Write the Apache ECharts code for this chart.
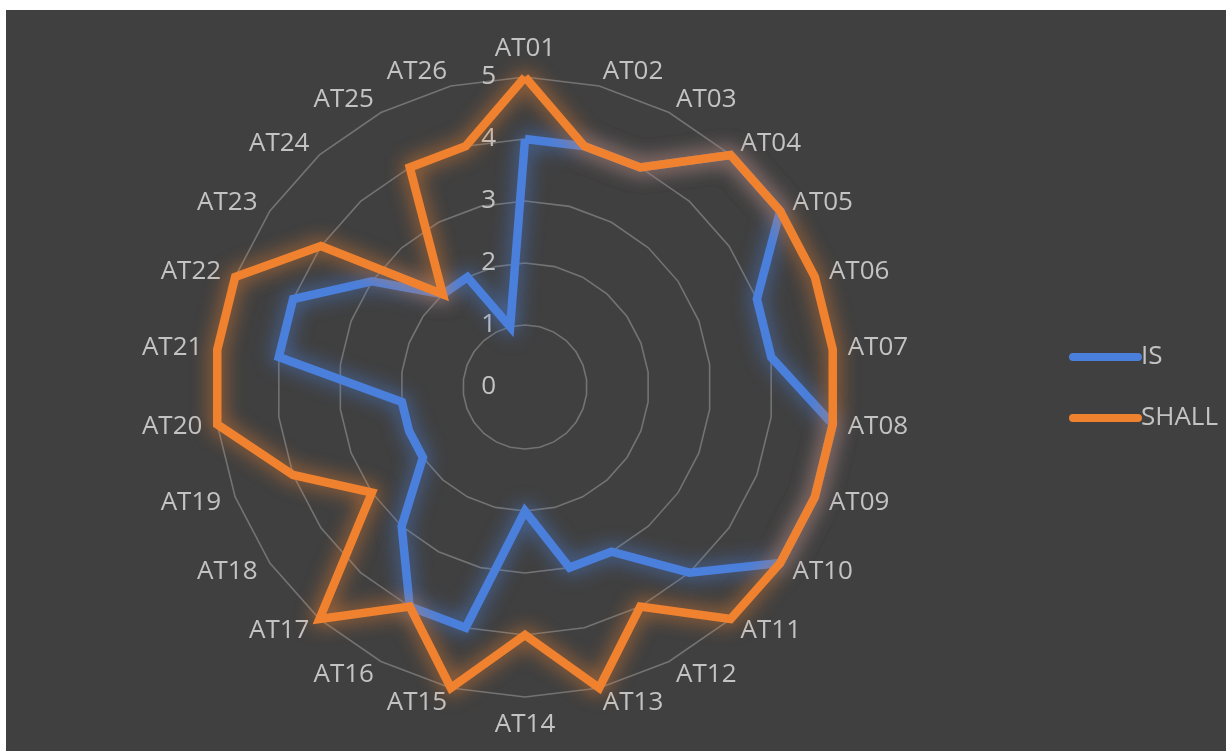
<!DOCTYPE html>
<html>
<head>
<meta charset="utf-8">
<script src="https://cdn.jsdelivr.net/npm/echarts@6/dist/echarts.min.js"></script>
<style>
  html, body { margin: 0; padding: 0; background: #ffffff; }
  #chart { position: absolute; left: 6px; top: 10px; width: 1220px; height: 741px; background: #404040; }
</style>
</head>
<body>
<div id="chart"></div>
<script>
// Attribute categories, listed clockwise from the top
const categories = ['AT01','AT02','AT03','AT04','AT05','AT06','AT07','AT08','AT09','AT10','AT11','AT12','AT13',
                    'AT14','AT15','AT16','AT17','AT18','AT19','AT20','AT21','AT22','AT23','AT24','AT25','AT26'];
// Current state
const isValues = [4,4,4,5,5,4,4,5,5,5,4,3,3,2,4,4,3,2,2,2,4,4,3,2,2,1];
// Target state
const shallValues = [5,4,4,5,5,5,5,5,5,5,5,4,5,4,5,4,5,3,4,5,5,5,4,2,4,4];
const seriesNames = ['IS', 'SHALL'];
const scaleMin = 0;
const scaleMax = 5;

const textColor = '#c3c3c3';
const font = '"Open Sans", "Noto Sans", sans-serif';
const blue = '#4a7fdc';
const orange = '#f0822f';

// ECharts lays radar spokes out counter-clockwise; keep AT01 on top and
// walk the rest backwards so the categories run clockwise.
const order = [0].concat(categories.map((_, i) => i).slice(1).reverse());
const reorder = arr => order.map(i => arr[i]);

const indicator = reorder(categories).map((name, i) => {
  const ind = { name: name, min: scaleMin, max: scaleMax };
  if (i === 0) {
    // value scale shown only on the top spoke
    ind.axisLabel = { show: true, showMinLabel: true, showMaxLabel: true };
  }
  return ind;
});

const chart = echarts.init(document.getElementById('chart'), null, { renderer: 'canvas' });

const pill = 'path://M4,0 L68,0 A4,4 0 0 1 68,8 L4,8 A4,4 0 0 1 4,0 Z';

chart.setOption({
  backgroundColor: '#404040',
  animation: false,
  legend: {
    orient: 'vertical',
    left: 1058,
    top: 329,
    itemWidth: 73,
    itemHeight: 9,
    itemGap: 35,
    data: [
      { name: seriesNames[0], icon: pill },
      { name: seriesNames[1], icon: pill }
    ],
    textStyle: { color: textColor, fontSize: 26, fontFamily: font, padding: [0, 0, 0, -6] }
  },
  radar: {
    center: [519, 377],
    radius: 310,
    startAngle: 90,
    shape: 'polygon',
    splitNumber: 5,
    indicator: indicator,
    axisName: { color: textColor, fontSize: 26, fontFamily: font },
    nameGap: 15,
    axisLine: { show: false },
    axisTick: { show: false },
    axisLabel: {
      show: false,
      color: textColor,
      fontSize: 26,
      fontFamily: font,
      margin: 29
    },
    splitLine: { lineStyle: { color: '#737373', width: 1.6 } },
    splitArea: { show: false }
  },
  series: [{
    type: 'radar',
    symbol: 'none',
    data: [
      {
        name: seriesNames[0],
        value: reorder(isValues),
        itemStyle: { color: blue },
        lineStyle: { color: blue, width: 8.5, join: 'miter', shadowBlur: 20, shadowColor: 'rgba(74,127,220,0.9)' }
      },
      {
        name: seriesNames[1],
        value: reorder(shallValues),
        itemStyle: { color: orange },
        lineStyle: { color: orange, width: 8.5, join: 'miter', shadowBlur: 20, shadowColor: 'rgba(240,130,47,0.9)' }
      }
    ]
  }]
});
</script>
</body>
</html>
